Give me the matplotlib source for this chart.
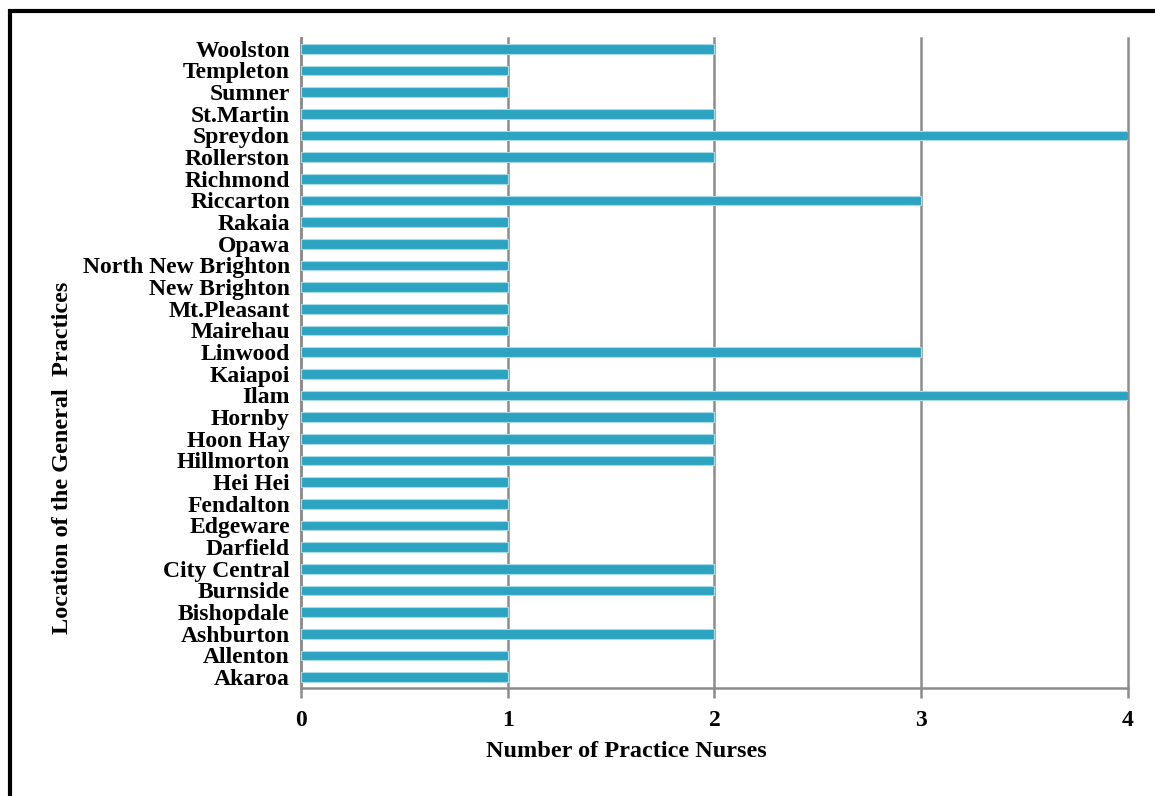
import matplotlib
matplotlib.use('Agg')
import matplotlib.pyplot as plt
from matplotlib.patches import Rectangle

# general practice locations (bottom to top) and practice nurse counts
practices = ['Akaroa', 'Allenton', 'Ashburton', 'Bishopdale', 'Burnside',
             'City Central', 'Darfield', 'Edgeware', 'Fendalton', 'Hei Hei',
             'Hillmorton', 'Hoon Hay', 'Hornby', 'Ilam', 'Kaiapoi', 'Linwood',
             'Mairehau', 'Mt.Pleasant', 'New Brighton', 'North New Brighton',
             'Opawa', 'Rakaia', 'Riccarton', 'Richmond', 'Rollerston',
             'Spreydon', 'St.Martin', 'Sumner', 'Templeton', 'Woolston']
nurses = [1, 1, 2, 1, 2,
          2, 1, 1, 1, 1,
          2, 2, 2, 4, 1, 3,
          1, 1, 1, 1,
          1, 1, 3, 1, 2,
          4, 2, 1, 1, 2]
x_ticks = [0, 1, 2, 3, 4]

plt.rcParams['font.family'] = ['Liberation Serif', 'DejaVu Serif']
plt.rcParams['font.weight'] = 'bold'

fig = plt.figure(figsize=(11.55, 7.96), dpi=100)
ax = fig.add_axes([0.2606, 0.1357, 0.7160, 0.8166])

grid_col = '#8c8c8c'
ax.barh(range(len(practices)), nurses, height=0.44, color='#2ca3c1',
        edgecolor='#a8dbe6', linewidth=0.8, zorder=3)

ax.set_xlim(0, 4)
ax.set_ylim(-0.5, len(practices) - 0.5)
ax.set_xticks(x_ticks)
ax.set_xticklabels([str(t) for t in x_ticks], fontsize=17, fontweight='bold')
ax.set_yticks(range(len(practices)))
ax.set_yticklabels(practices, fontsize=17, fontweight='bold')

ax.xaxis.grid(True, color=grid_col, linewidth=1.8, zorder=1)
# keep the last gridline (x=4) at full width on the axes edge
for gl in ax.xaxis.get_gridlines():
    gl.set_clip_on(False)
ax.tick_params(axis='x', length=7, width=1.8, color=grid_col, pad=9)
ax.tick_params(axis='y', length=0, pad=8)
for side in ['top', 'right']:
    ax.spines[side].set_visible(False)
for side in ['left', 'bottom']:
    ax.spines[side].set_color(grid_col)
    ax.spines[side].set_linewidth(1.8)

fig.text(0.5425, 0.0555, 'Number of Practice Nurses', fontsize=17.5,
         fontweight='bold', ha='center', va='center')
fig.text(0.054, 0.4246, 'Location of the General  Practices', rotation=90,
         fontsize=17.5, fontweight='bold', ha='center', va='center')

# black frame around the chart area
fig.patches.append(Rectangle((0.0085, -0.1), 1.2, 1.086,
                             transform=fig.transFigure, fill=False,
                             edgecolor='black', linewidth=3))

fig.savefig('out.png', dpi=100)
